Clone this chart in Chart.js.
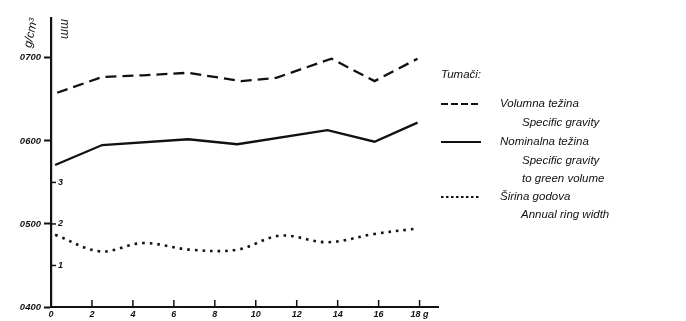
<!DOCTYPE html>
<html><head><meta charset="utf-8">
<script src="https://cdn.jsdelivr.net/npm/chart.js@4"></script>
<style>
html,body{margin:0;padding:0;background:#fff}
#wrap{width:686px;height:321px;position:relative}
</style>
</head><body>
<div id="wrap"><canvas id="c" width="686" height="321"></canvas></div>
<script>
// Axis ticks
const xTicks = [0, 2, 4, 6, 8, 10, 12, 14, 16, 18];
const gTicks = [0.4, 0.5, 0.6, 0.7];
const mmTicks = [1, 2, 3];

// Volumna težina (g/cm³)
const volX = [0.3, 2.5, 4.5, 6.7, 9.3, 11.0, 13.7, 15.8, 17.9];
const volY = [0.658, 0.677, 0.679, 0.682, 0.672, 0.676, 0.699, 0.672, 0.699];

// Nominalna težina (g/cm³)
const nomX = [0.2, 2.5, 6.7, 9.1, 13.5, 15.8, 17.9];
const nomY = [0.571, 0.595, 0.602, 0.596, 0.613, 0.599, 0.622];

// Širina godova (mm)
const ringX = [0.2, 2.4, 4.5, 6.8, 9.1, 11.2, 13.5, 15.8, 17.7];
const ringY = [1.74, 1.34, 1.54, 1.38, 1.38, 1.72, 1.56, 1.76, 1.88];

const INK = '#111';
const FONT = '"Liberation Sans", Arial, sans-serif';

const pts = (xs, ys) => xs.map((x, i) => ({ x, y: ys[i] }));

const decor = {
  id: 'decor',
  afterDraw(chart) {
    const ctx = chart.ctx;
    const xs = chart.scales.x, mm = chart.scales.mm, ca = chart.chartArea;
    ctx.save();
    ctx.strokeStyle = INK;
    ctx.fillStyle = INK;
    // inward x tick marks
    ctx.lineWidth = 1.5;
    xTicks.forEach(v => {
      if (v === 0) return;
      const px = xs.getPixelForValue(v);
      ctx.beginPath(); ctx.moveTo(px, ca.bottom); ctx.lineTo(px, ca.bottom - 7); ctx.stroke();
    });
    // inner mm tick marks
    mmTicks.forEach(v => {
      const py = mm.getPixelForValue(v);
      ctx.beginPath(); ctx.moveTo(ca.left, py); ctx.lineTo(ca.left + 5, py); ctx.stroke();
    });
    // axis units
    ctx.font = 'italic 12px ' + FONT;
    ctx.textBaseline = 'middle';
    ctx.textAlign = 'center';
    ctx.save(); ctx.translate(31, 33); ctx.rotate(-Math.PI / 2 + 0.2); ctx.fillText('g/cm³', 0, 0); ctx.restore();
    ctx.save(); ctx.translate(64, 29); ctx.rotate(Math.PI / 2); ctx.fillText('mm', 0, 0); ctx.restore();

    // legend
    ctx.textAlign = 'left';
    ctx.font = 'italic 11.5px ' + FONT;
    ctx.fillText('Tumači:', 441, 75);
    const sample = (y, dash, w) => {
      ctx.save(); ctx.setLineDash(dash); ctx.lineWidth = w;
      ctx.beginPath(); ctx.moveTo(441, y); ctx.lineTo(481, y); ctx.stroke(); ctx.restore();
    };
    sample(104, [7, 3], 2);
    ctx.fillText('Volumna težina', 500, 104);
    ctx.fillText('Specific gravity', 522, 123);
    sample(142, [], 2.2);
    ctx.fillText('Nominalna težina', 500, 142);
    ctx.fillText('Specific gravity', 522, 161);
    ctx.fillText('to green volume', 522, 179);
    sample(197, [2.5, 2.5], 2.2);
    ctx.fillText('Širina godova', 500, 197);
    ctx.fillText('Annual ring width', 521, 215);
    ctx.restore();
  }
};

const xFont = { family: FONT, size: 9, style: 'italic', weight: 'bold' };
const gFont = { family: FONT, size: 9.5, style: 'italic', weight: 'bold' };

new Chart(document.getElementById('c'), {
  type: 'line',
  data: {
    datasets: [
      { label: 'Volumna težina', data: pts(volX, volY), yAxisID: 'g', borderColor: INK, borderWidth: 2.3, borderDash: [11, 6], pointRadius: 0, tension: 0 },
      { label: 'Nominalna težina', data: pts(nomX, nomY), yAxisID: 'g', borderColor: INK, borderWidth: 2.3, pointRadius: 0, tension: 0 },
      { label: 'Širina godova', data: pts(ringX, ringY), yAxisID: 'mm', borderColor: INK, borderWidth: 2.6, borderDash: [2.6, 5], pointRadius: 0, tension: 0.35 }
    ]
  },
  options: {
    responsive: false,
    animation: false,
    devicePixelRatio: 1,
    layout: { padding: { left: 0, top: 18, right: 248, bottom: 0 } },
    plugins: { legend: { display: false }, tooltip: { enabled: false } },
    scales: {
      x: {
        type: 'linear', min: 0, max: 18.9,
        afterBuildTicks: s => { s.ticks = xTicks.map(v => ({ value: v })); },
        afterFit: s => { s.height = 14; },
        grid: { drawOnChartArea: false, drawTicks: false },
        border: { color: INK, width: 2 },
        ticks: { color: INK, font: xFont, padding: 2, maxRotation: 0, autoSkip: false,
                 callback: v => v === 18 ? '18 g' : String(v) }
      },
      g: {
        position: 'left', weight: 1, min: 0.4, max: 0.748,
        afterBuildTicks: s => { s.ticks = gTicks.map(v => ({ value: v })); },
        afterFit: s => { s.width = 51; },
        grid: { drawOnChartArea: false, tickLength: 7, tickWidth: 2, tickColor: INK },
        border: { color: INK, width: 2.2 },
        ticks: { color: INK, font: gFont, padding: 3, callback: v => v.toFixed(3).replace('.', '') }
      },
      mm: {
        position: 'left', weight: 0, min: 0, max: 6.96,
        afterBuildTicks: s => { s.ticks = mmTicks.map(v => ({ value: v })); },
        afterFit: s => { s.width = 0; },
        grid: { display: false },
        border: { display: false },
        ticks: { color: INK, font: xFont, mirror: true, padding: 7, callback: v => String(v) }
      }
    }
  },
  plugins: [decor]
});
</script>
</body></html>
